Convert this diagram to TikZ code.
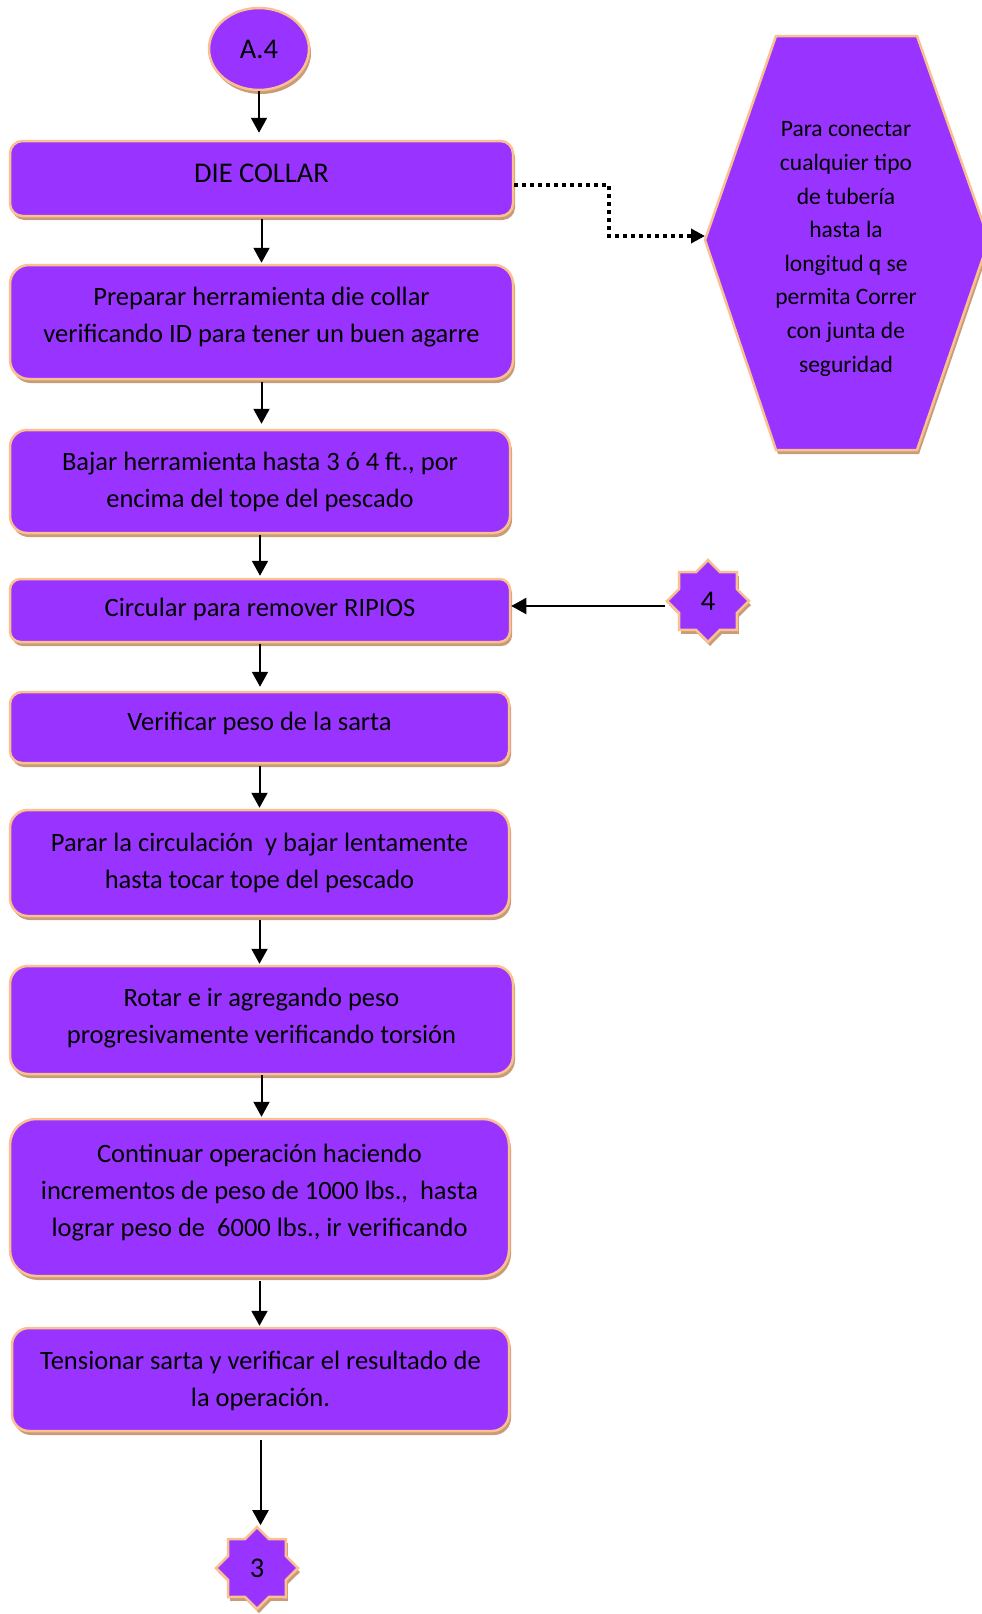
\documentclass[tikz,border=0pt]{standalone}
\usepackage{fontspec}
\setmainfont{Carlito}
\usetikzlibrary{arrows.meta,shapes.geometric,shadows}
\definecolor{fillc}{HTML}{9933FF}
\definecolor{edgec}{HTML}{FAC090}
\definecolor{shadc}{HTML}{C99C78}
\begin{document}
\begin{tikzpicture}[x=1pt,y=-1pt,
  shad/.style={drop shadow={shadow xshift=2pt,shadow yshift=-4pt,fill=shadc,opacity=1}},
  shapestyle/.style={draw=edgec,line width=2.5pt,fill=fillc,shad},
  procbox/.style={shapestyle,inner sep=0pt},
  boxtext/.style={align=center,inner sep=0pt,font=\fontsize{26.5}{37}\selectfont},
  starnode/.style={shapestyle,star,star points=8,star point ratio=1.31,inner sep=0pt,minimum size=82pt,font=\fontsize{28.5}{30}\selectfont},
  conn/.style={line width=2pt,-{Triangle[length=15pt,width=16pt]}},
  dotconn/.style={line width=3.5pt,dash pattern=on 4pt off 4pt,-{Triangle[length=14pt,width=14pt]}}]
\useasboundingbox (0,0) rectangle (982,1614);

% start circle
\node[shapestyle,ellipse,minimum width=100pt,minimum height=82pt,inner sep=0pt,font=\fontsize{28.5}{30}\selectfont] (c1) at (259,49) {A.4};

% process boxes
\node[procbox,minimum width=503pt,minimum height=75pt,rounded corners=12.5pt] (b1) at (261.5,178.5) {};
\node[boxtext,font=\fontsize{28.5}{37}\selectfont] (t1) at ([yshift=5pt]b1.center) {DIE COLLAR};
\node[procbox,minimum width=503pt,minimum height=114pt,rounded corners=19pt] (b2) at (261.5,322) {};
\node[boxtext] (t2) at ([yshift=5pt]b2.center) {Preparar herramienta die collar\\verificando ID para tener un buen agarre};
\node[procbox,minimum width=500pt,minimum height=103pt,rounded corners=17pt] (b3) at (260,481.5) {};
\node[boxtext] (t3) at (b3.center) {Bajar herramienta hasta 3 ó 4 ft., por\\encima del tope del pescado};
\node[procbox,minimum width=500pt,minimum height=63pt,rounded corners=10.5pt] (b4) at (260,610.5) {};
\node[boxtext] (t4) at ([yshift=1pt]b4.center) {Circular para remover RIPIOS};
\node[procbox,minimum width=499pt,minimum height=71pt,rounded corners=12pt] (b5) at (259.5,727.5) {};
\node[boxtext] (t5) at ([yshift=4pt]b5.center) {Verificar peso de la sarta};
\node[procbox,minimum width=499pt,minimum height=106pt,rounded corners=18pt] (b6) at (259.5,863) {};
\node[boxtext] (t6) at (b6.center) {Parar la circulación\ \ y bajar lentamente\\hasta tocar tope del pescado};
\node[procbox,minimum width=503pt,minimum height=108pt,rounded corners=18pt] (b7) at (261.5,1020) {};
\node[boxtext] (t7) at ([yshift=2pt]b7.center) {Rotar e ir agregando peso\\progresivamente verificando torsión};
\node[procbox,minimum width=499pt,minimum height=157pt,rounded corners=26pt] (b8) at (259.5,1197.5) {};
\node[boxtext] (t8) at ([yshift=5pt]b8.center) {Continuar operación haciendo\\incrementos de peso de 1000 lbs.,\ \ hasta\\lograr peso de\ \ 6000 lbs., ir verificando};
\node[procbox,minimum width=497pt,minimum height=103pt,rounded corners=17pt] (b9) at (260.5,1379.5) {};
\node[boxtext] (t9) at ([yshift=-1pt]b9.center) {Tensionar sarta y verificar el resultado de\\la operación.};

% stars
\node[starnode] (s4) at (708,601) {4};
\node[starnode] (s3) at (257,1568) {3};

% hexagon note
\draw[shapestyle] (705,240) -- (776,36) -- (917,36) -- (989,240) -- (917,450) -- (776,450) -- cycle;
\coordinate (hexL) at (705,236);
\node[align=center,font=\fontsize{23.5}{33.6}\selectfont] (hex) at (846,249) {Para conectar\\cualquier tipo\\de tubería\\hasta la\\longitud q se\\permita Correr\\con junta de\\seguridad};

% connectors
\draw[conn,shorten >=7pt] (c1.south) -- (c1.south |- b1.north);
\draw[conn,shorten <=2pt,shorten >=1pt] (b1.south) -- (b1.south |- b2.north);
\draw[conn,shorten <=2pt,shorten >=5pt] (b2.south) -- (b2.south |- b3.north);
\draw[conn,shorten <=1pt,shorten >=2pt] (b3.south) -- (b3.south |- b4.north);
\draw[conn,shorten <=1pt,shorten >=4pt] (b4.south) -- (b4.south |- b5.north);
\draw[conn,shorten <=2pt,shorten >=1pt] (b5.south) -- (b5.south |- b6.north);
\draw[conn,shorten <=3pt,shorten >=1pt] (b6.south) -- (b6.south |- b7.north);
\draw[conn,shorten >=1pt] (b7.south) -- (b7.south |- b8.north);
\draw[conn,shorten <=4pt,shorten >=1pt] (b8.south) -- (b8.south |- b9.north);
\draw[conn,shorten <=8pt] (b9.south) -- (b9.south |- s3.north);
\draw[conn] (s4.west |- 0,606) -- (b4.east |- 0,606);
\draw[dotconn] (b1.east) ++(0,6.5) -| (609,236) -- (hexL);
\end{tikzpicture}
\end{document}
